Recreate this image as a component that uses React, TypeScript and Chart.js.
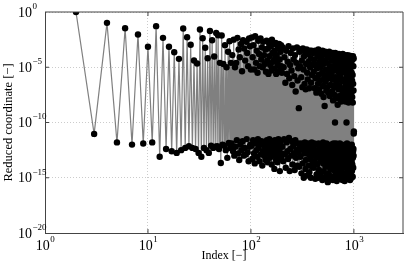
import React, { useEffect, useRef } from 'react';
import { Chart, registerables } from 'chart.js';

Chart.register(...registerables);

// Values are log10 of the reduced coordinate.
// Index 2..100 (every index)
const indicesSparse = [
  2, 3, 4, 5, 6, 7, 8, 9, 10, 11, 12, 13, 14, 15, 16, 17, 18, 19, 20, 21,
  22, 23, 24, 25, 26, 27, 28, 29, 30, 31, 32, 33, 34, 35, 36, 37, 38, 39, 40, 41,
  42, 43, 44, 45, 46, 47, 48, 49, 50, 51, 52, 53, 54, 55, 56, 57, 58, 59, 60, 61,
  62, 63, 64, 65, 66, 67, 68, 69, 70, 71, 72, 73, 74, 75, 76, 77, 78, 79, 80, 81,
  82, 83, 84, 85, 86, 87, 88, 89, 90, 91, 92, 93, 94, 95, 96, 97, 98, 99, 100,
];
const log10Sparse = [
  0, -11.03, -0.98, -11.8, -1.47, -12.0, -2.04, -11.9, -3.15, -11.8, -1.28, -13.1, -2.34, -12.4, -3.15, -12.6, -3.64, -12.75, -4.24, -12.5,
  -1.49, -12.3, -2.28, -12.15, -2.97, -12.3, -4.39, -12.4, -4.66, -12.75, -1.59, -13.1, -2.37, -12.3, -3.24, -12.5, -4.18, -12.75, -1.72, -12.1,
  -2.55, -12.3, -4.03, -12.2, -1.9, -12.15, -2.1, -12.4, -4.6, -13.66, -2.13, -12.0, -4.7, -12.1, -3.0, -12.5, -5.0, -13.2, -3.6, -11.85,
  -2.65, -12.3, -4.6, -11.9, -3.9, -12.6, -2.5, -13.0, -5.0, -12.2, -4.6, -11.6, -2.34, -12.8, -3.4, -13.4, -4.1, -12.0, -2.9, -12.5,
  -5.36, -11.7, -2.55, -13.0, -3.3, -12.3, -4.4, -12.9, -2.7, -11.5, -3.7, -12.7, -4.9, -13.5, -2.4, -12.2, -3.1, -12.0, -5.2,
];

// Index 101..200 (every index)
const indicesMid = [
  101, 102, 103, 104, 105, 106, 107, 108, 109, 110, 111, 112, 113, 114, 115, 116, 117, 118, 119, 120,
  121, 122, 123, 124, 125, 126, 127, 128, 129, 130, 131, 132, 133, 134, 135, 136, 137, 138, 139, 140,
  141, 142, 143, 144, 145, 146, 147, 148, 149, 150, 151, 152, 153, 154, 155, 156, 157, 158, 159, 160,
  161, 162, 163, 164, 165, 166, 167, 168, 169, 170, 171, 172, 173, 174, 175, 176, 177, 178, 179, 180,
  181, 182, 183, 184, 185, 186, 187, 188, 189, 190, 191, 192, 193, 194, 195, 196, 197, 198, 199, 200,
];
const log10Mid = [
  -12.1, -2.3, -13.3, -4.1, -11.6, -3.0, -12.8, -5.2, -13.7, -2.2, -11.9, -4.6, -12.5, -3.5, -13.1, -5.5, -11.5, -2.6, -12.3, -3.8,
  -13.5, -4.9, -12.0, -2.4, -12.9, -4.3, -11.7, -3.2, -13.9, -5.0, -12.6, -2.7, -11.8, -3.9, -13.0, -4.7, -12.2, -3.4, -13.4, -5.4,
  -12.4, -2.6, -11.6, -4.4, -13.6, -3.3, -12.0, -5.6, -12.8, -2.8, -11.5, -4.0, -13.2, -4.8, -12.5, -3.1, -11.9, -5.3, -13.8, -2.5,
  -12.3, -3.7, -11.7, -4.5, -13.0, -2.9, -12.7, -5.1, -14.2, -3.5, -11.6, -4.2, -12.1, -2.8, -13.4, -5.6, -12.9, -3.9, -11.8, -3.0,
  -13.6, -4.7, -12.4, -5.4, -11.5, -3.3, -13.1, -2.9, -12.6, -4.3, -14.4, -5.0, -12.0, -3.6, -11.7, -3.0, -13.3, -4.9, -12.8, -5.5,
];

// Index 202..400 (every second index)
const indicesDense = [
  202, 204, 206, 208, 210, 212, 214, 216, 218, 220, 222, 224, 226, 228, 230, 232, 234, 236, 238, 240,
  242, 244, 246, 248, 250, 252, 254, 256, 258, 260, 262, 264, 266, 268, 270, 272, 274, 276, 278, 280,
  282, 284, 286, 288, 290, 292, 294, 296, 298, 300, 302, 304, 306, 308, 310, 312, 314, 316, 318, 320,
  322, 324, 326, 328, 330, 332, 334, 336, 338, 340, 342, 344, 346, 348, 350, 352, 354, 356, 358, 360,
  362, 364, 366, 368, 370, 372, 374, 376, 378, 380, 382, 384, 386, 388, 390, 392, 394, 396, 398, 400,
];
const log10Dense = [
  -12.2, -3.2, -13.5, -5.0, -11.5, -4.1, -12.9, -6.4, -14.1, -3.5, -11.8, -5.6, -12.6, -4.5, -13.3, -3.1, -11.4, -6.0, -14.4, -4.8,
  -12.4, -3.7, -13.0, -5.3, -11.7, -6.6, -13.8, -3.3, -12.1, -4.3, -12.8, -5.8, -14.3, -3.9, -11.6, -7.2, -13.2, -4.6, -12.5, -3.2,
  -13.9, -6.2, -11.9, -5.1, -12.7, -8.7, -14.0, -3.6, -12.3, -4.9, -13.1, -3.4, -11.9, -5.9, -14.6, -4.4, -12.4, -6.8, -13.7, -3.3,
  -12.0, -5.2, -15.0, -4.0, -12.8, -6.5, -11.8, -3.6, -14.2, -7.0, -13.4, -4.7, -12.2, -3.4, -14.8, -5.5, -12.6, -6.1, -11.9, -3.8,
  -13.9, -4.5, -12.9, -6.9, -14.5, -3.5, -12.1, -5.0, -13.3, -4.2, -15.0, -6.4, -12.5, -3.5, -11.8, -5.7, -14.0, -4.8, -13.6, -3.7,
];

// Index 402..600 (every second index)
const indicesLate = [
  402, 404, 406, 408, 410, 412, 414, 416, 418, 420, 422, 424, 426, 428, 430, 432, 434, 436, 438, 440,
  442, 444, 446, 448, 450, 452, 454, 456, 458, 460, 462, 464, 466, 468, 470, 472, 474, 476, 478, 480,
  482, 484, 486, 488, 490, 492, 494, 496, 498, 500, 502, 504, 506, 508, 510, 512, 514, 516, 518, 520,
  522, 524, 526, 528, 530, 532, 534, 536, 538, 540, 542, 544, 546, 548, 550, 552, 554, 556, 558, 560,
  562, 564, 566, 568, 570, 572, 574, 576, 578, 580, 582, 584, 586, 588, 590, 592, 594, 596, 598, 600,
];
const log10Late = [
  -12.3, -3.6, -14.1, -5.4, -12.9, -4.3, -11.9, -6.9, -13.6, -3.5, -15.1, -6.0, -12.5, -4.8, -13.2, -7.3, -14.7, -3.7, -12.0, -5.1,
  -13.8, -4.0, -12.7, -6.5, -15.0, -3.4, -11.9, -5.7, -14.3, -7.0, -13.1, -4.5, -12.4, -3.6, -14.9, -6.2, -12.8, -5.0, -13.5, -3.9,
  -12.1, -7.4, -14.5, -4.2, -13.0, -5.5, -15.2, -3.5, -12.6, -6.7, -11.8, -4.7, -13.7, -7.7, -14.4, -3.8, -12.2, -5.9, -13.3, -8.5,
  -15.0, -4.4, -12.9, -3.6, -14.0, -6.3, -12.4, -5.2, -13.6, -7.1, -11.9, -3.9, -14.8, -4.6, -13.2, -6.8, -12.5, -3.7, -15.4, -5.6,
  -13.9, -7.3, -12.1, -4.1, -14.6, -6.0, -12.8, -3.6, -13.4, -5.3, -15.1, -7.6, -12.3, -4.9, -14.2, -3.8, -13.0, -6.6, -12.0, -5.8,
];

// Index 602..800 (every second index)
const indicesLater = [
  602, 604, 606, 608, 610, 612, 614, 616, 618, 620, 622, 624, 626, 628, 630, 632, 634, 636, 638, 640,
  642, 644, 646, 648, 650, 652, 654, 656, 658, 660, 662, 664, 666, 668, 670, 672, 674, 676, 678, 680,
  682, 684, 686, 688, 690, 692, 694, 696, 698, 700, 702, 704, 706, 708, 710, 712, 714, 716, 718, 720,
  722, 724, 726, 728, 730, 732, 734, 736, 738, 740, 742, 744, 746, 748, 750, 752, 754, 756, 758, 760,
  762, 764, 766, 768, 770, 772, 774, 776, 778, 780, 782, 784, 786, 788, 790, 792, 794, 796, 798, 800,
];
const log10Later = [
  -12.4, -3.8, -13.8, -5.6, -12.0, -4.4, -14.9, -7.2, -13.1, -6.1, -12.6, -3.7, -15.2, -8.0, -13.5, -4.9, -11.9, -5.3, -14.3, -3.9,
  -12.8, -6.8, -13.9, -4.2, -12.2, -7.5, -15.0, -10.0, -13.3, -3.7, -12.5, -5.9, -14.6, -4.6, -11.9, -6.5, -13.7, -3.8, -12.9, -7.8,
  -15.3, -5.0, -12.3, -4.1, -14.1, -6.2, -13.0, -8.4, -12.6, -3.9, -14.8, -5.4, -12.0, -7.0, -13.6, -4.5, -15.1, -3.8, -12.7, -6.7,
  -14.4, -5.8, -13.2, -4.0, -11.9, -7.6, -14.9, -4.8, -12.5, -3.9, -13.8, -6.0, -12.2, -5.2, -15.0, -8.1, -13.4, -4.3, -12.8, -3.9,
  -14.2, -6.9, -12.0, -5.5, -13.1, -4.7, -15.2, -7.3, -12.6, -3.8, -14.0, -6.3, -13.5, -5.1, -12.3, -4.1, -14.7, -7.9, -12.9, -4.4,
];

// Index 802..1000 (every second index)
const indicesTail = [
  802, 804, 806, 808, 810, 812, 814, 816, 818, 820, 822, 824, 826, 828, 830, 832, 834, 836, 838, 840,
  842, 844, 846, 848, 850, 852, 854, 856, 858, 860, 862, 864, 866, 868, 870, 872, 874, 876, 878, 880,
  882, 884, 886, 888, 890, 892, 894, 896, 898, 900, 902, 904, 906, 908, 910, 912, 914, 916, 918, 920,
  922, 924, 926, 928, 930, 932, 934, 936, 938, 940, 942, 944, 946, 948, 950, 952, 954, 956, 958, 960,
  962, 964, 966, 968, 970, 972, 974, 976, 978, 980, 982, 984, 986, 988, 990, 992, 994, 996, 998, 1000,
];
const log10Tail = [
  -12.5, -4.0, -14.0, -6.1, -12.1, -4.7, -15.3, -7.5, -13.4, -5.4, -12.7, -3.9, -14.6, -8.1, -12.0, -5.0, -13.8, -6.6, -15.0, -4.3,
  -12.4, -7.2, -13.2, -10.0, -14.8, -4.1, -12.9, -5.8, -11.9, -6.9, -14.3, -4.5, -13.6, -3.9, -12.2, -7.9, -15.1, -5.3, -13.0, -6.3,
  -12.6, -4.2, -14.5, -8.2, -12.0, -5.6, -13.7, -4.0, -14.9, -7.0, -12.8, -4.8, -13.3, -6.4, -12.3, -3.95, -14.2, -7.6, -15.2, -5.1,
  -12.7, -4.4, -13.9, -6.8, -12.1, -5.9, -14.7, -4.0, -13.1, -8.0, -12.5, -4.6, -15.0, -7.3, -13.5, -5.5, -12.0, -4.1, -14.4, -6.2,
  -12.9, -7.7, -13.8, -4.3, -12.3, -5.7, -14.9, -8.2, -13.2, -4.0, -12.6, -6.5, -14.1, -4.9, -12.4, -7.1, -13.0, -4.2, -11.0, -10.8,
];

const xTickValues = [1, 10, 100, 1000];
const yTickValues = [1e-20, 1e-15, 1e-10, 1e-5, 1];
const xTitle = 'Index [\u2212]';
const yTitle = 'Reduced coordinate [\u2212]';

const FONT = "'Liberation Serif', 'Times New Roman', serif";
const BASE_FONT = `14px ${FONT}`;
const EXP_FONT = `9px ${FONT}`;

function exponentText(v: number): string {
  const e = Math.round(Math.log10(v));
  return e < 0 ? '\u2212' + String(-e) : String(e);
}

// Tick labels "10" with a raised exponent, placed through the scales.
const powerLabelPlugin = {
  id: 'powerLabels',
  afterDraw(chart: any) {
    const { ctx, chartArea: a, scales } = chart;
    ctx.save();
    ctx.fillStyle = '#000';
    ctx.textBaseline = 'middle';
    ctx.font = BASE_FONT;
    const wBase = ctx.measureText('10').width;
    for (const v of xTickValues) {
      const px = scales.x.getPixelForValue(v);
      const exp = exponentText(v);
      ctx.font = EXP_FONT;
      const wExp = ctx.measureText(exp).width;
      const left = px - (wBase + wExp) / 2;
      ctx.textAlign = 'left';
      ctx.font = BASE_FONT;
      ctx.fillText('10', left, a.bottom + 13);
      ctx.font = EXP_FONT;
      ctx.fillText(exp, left + wBase + 0.5, a.bottom + 6.5);
    }
    for (const v of yTickValues) {
      const py = scales.y.getPixelForValue(v);
      const exp = exponentText(v);
      const baseRight = a.left - 13;
      ctx.font = BASE_FONT;
      ctx.textAlign = 'right';
      ctx.fillText('10', baseRight, py + 1);
      ctx.font = EXP_FONT;
      ctx.textAlign = 'left';
      ctx.fillText(exp, baseRight + 0.5, py - 5.5);
    }
    ctx.restore();
  },
};

const framePlugin = {
  id: 'frame',
  afterDraw(chart: any) {
    const { ctx, chartArea: a, scales } = chart;
    ctx.save();
    ctx.strokeStyle = '#444';
    ctx.lineWidth = 1;
    ctx.beginPath();
    ctx.moveTo(a.left, a.top);
    ctx.lineTo(a.right, a.top);
    ctx.lineTo(a.right, a.bottom);
    for (const v of xTickValues) {
      const px = scales.x.getPixelForValue(v);
      if (px > a.left + 1 && px < a.right - 1) {
        ctx.moveTo(px, a.bottom); ctx.lineTo(px, a.bottom - 4);
        ctx.moveTo(px, a.top); ctx.lineTo(px, a.top + 4);
      }
    }
    for (const v of yTickValues) {
      const py = scales.y.getPixelForValue(v);
      if (py > a.top + 1 && py < a.bottom - 1) {
        ctx.moveTo(a.left, py); ctx.lineTo(a.left + 4, py);
        ctx.moveTo(a.right, py); ctx.lineTo(a.right - 4, py);
      }
    }
    ctx.stroke();
    ctx.restore();
  },
};

export default function App() {
  const canvasRef = useRef<HTMLCanvasElement | null>(null);

  useEffect(() => {
    document.body.style.margin = '0';
    const canvas = canvasRef.current;
    if (!canvas) return;
    const indices = [...indicesSparse, ...indicesMid, ...indicesDense, ...indicesLate, ...indicesLater, ...indicesTail];
    const logs = [...log10Sparse, ...log10Mid, ...log10Dense, ...log10Late, ...log10Later, ...log10Tail];
    const points = indices.map((x, i) => ({ x, y: Math.pow(10, logs[i]) }));

    const chart = new Chart(canvas, {
      type: 'line',
      data: {
        datasets: [
          {
            data: points,
            borderColor: '#808080',
            borderWidth: 1.2,
            pointBackgroundColor: '#000',
            pointBorderColor: '#000',
            pointBorderWidth: 0,
            pointRadius: 3.2,
            tension: 0,
            fill: false,
          },
        ],
      },
      options: {
        animation: false,
        responsive: true,
        maintainAspectRatio: false,
        layout: { padding: { top: 12, right: 3, left: 0, bottom: 0 } },
        plugins: { legend: { display: false }, tooltip: { enabled: false } },
        scales: {
          x: {
            type: 'logarithmic',
            min: 1,
            max: 3000,
            afterBuildTicks: (scale: any) => {
              scale.ticks = xTickValues.map((value) => ({ value }));
            },
            afterFit: (scale: any) => {
              scale.height = 31;
            },
            ticks: { display: false, autoSkip: false },
            grid: { color: '#cccccc', drawTicks: false },
            border: { color: '#444', width: 1, dash: [1, 2] },
            title: {
              display: true,
              text: xTitle,
              color: '#000',
              font: { family: FONT, size: 12 },
              padding: { top: 0, bottom: 1 },
            },
          },
          y: {
            type: 'logarithmic',
            min: 1e-20,
            max: 1,
            afterBuildTicks: (scale: any) => {
              scale.ticks = yTickValues.map((value) => ({ value }));
            },
            afterFit: (scale: any) => {
              scale.width = 45;
            },
            ticks: { display: false, autoSkip: false },
            grid: { color: '#cccccc', drawTicks: false },
            border: { color: '#444', width: 1, dash: [1, 2] },
            title: {
              display: true,
              text: yTitle,
              color: '#000',
              font: { family: FONT, size: 12.5 },
              padding: { top: 1, bottom: 0 },
            },
          },
        },
      },
      plugins: [framePlugin, powerLabelPlugin],
    });
    return () => chart.destroy();
  }, []);

  return (
    <div style={{ width: 407, height: 264, position: 'relative' }}>
      <canvas ref={canvasRef} />
    </div>
  );
}
